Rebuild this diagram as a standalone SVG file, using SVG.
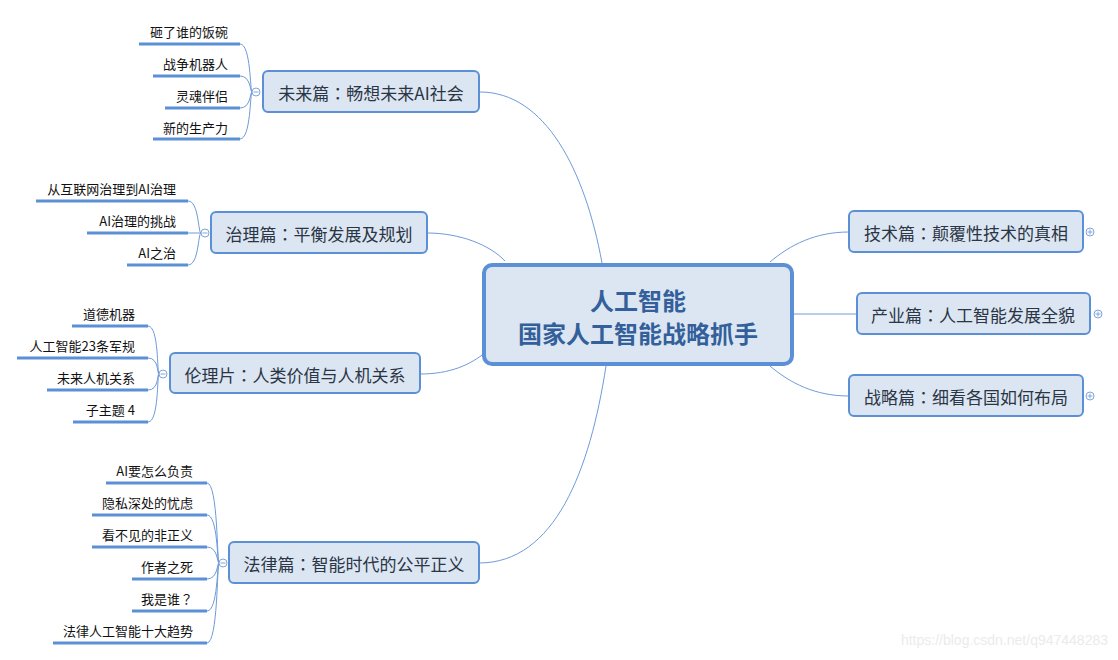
<svg xmlns="http://www.w3.org/2000/svg" width="1118" height="660" viewBox="0 0 1118 660">
<style>
text{font-family:"Noto Sans CJK SC","Microsoft YaHei","Liberation Sans",sans-serif;dominant-baseline:central}
.c{font-family:"Noto Sans CJK TC","Noto Sans CJK SC",sans-serif}
.topic{fill:#dce6f2;stroke:#5b8fd6;stroke-width:2}
.tt{font-size:17px;fill:#2a3545;text-anchor:middle}
.ct{font-size:24px;font-weight:bold;fill:#33609a;text-anchor:middle}
.sub{font-size:13px;fill:#111;text-anchor:end}
.ul{stroke:#5b8fd6;stroke-width:3;fill:none}
.conn path{fill:none;stroke:#6e9bd8;stroke-width:1}
.tog{fill:#fff;stroke:#7fa6dc;stroke-width:1}
.tsym{stroke:#7fa6dc;stroke-width:1}
</style>
<rect width="1118" height="660" fill="#fff"/>
<g id="connectors" class="conn">
<path d="M480 92 C545 92 585 170 602 263"/>
<path d="M427 233 C460 233 490 245 505 261"/>
<path d="M420 374 C450 374 470 365 486 352"/>
<path d="M479 563 C555 563 590 470 606 366"/>
<path d="M770 262 C790 245 815 232 849 232"/>
<path d="M794 314 L857 314"/>
<path d="M770 366 C790 383 815 396 849 396"/>
<path d="M240 44 C251 44 250 92 252 92"/>
<path d="M240 76 C251 76 250 92 252 92"/>
<path d="M240 108 C251 108 250 92 252 92"/>
<path d="M240 139 C251 139 250 92 252 92"/>
<path d="M188 201 C199 201 198 233 201 233"/>
<path d="M188 233 L201 233"/>
<path d="M188 265 C199 265 198 233 201 233"/>
<path d="M148 326 C159 326 157 374 159 374"/>
<path d="M148 358 C159 358 157 374 159 374"/>
<path d="M148 390 C159 390 157 374 159 374"/>
<path d="M148 422 C159 422 157 374 159 374"/>
<path d="M207 483 C218 483 217 563 219 563"/>
<path d="M207 515 C218 515 217 563 219 563"/>
<path d="M207 547 C218 547 217 563 219 563"/>
<path d="M207 579 C218 579 217 563 219 563"/>
<path d="M207 611 C218 611 217 563 219 563"/>
<path d="M207 643 C218 643 217 563 219 563"/>
</g>
<g id="center">
<rect x="484" y="265" width="308" height="99" rx="8" fill="#dce6f2" stroke="#5b8fd6" stroke-width="4"/>
<text class="ct" x="638" y="299">人工智能</text>
<text class="ct" x="638" y="332">国家人工智能战略抓手</text>
</g>
<g id="node-future">
<rect class="topic" x="263" y="71" width="216" height="41" rx="5"/>
<text class="tt" x="371" y="92">未来篇<tspan class="c">：</tspan>畅想未来AI社会</text>
<circle class="tog" cx="256" cy="92" r="4"/><line class="tsym" x1="253.5" y1="92" x2="258.5" y2="92"/>
</g>
<g id="future-1"><text class="sub" x="228" y="31">砸了谁的饭碗</text><line class="ul" x1="139" y1="44" x2="240" y2="44"/></g>
<g id="future-2"><text class="sub" x="228" y="63">战争机器人</text><line class="ul" x1="153" y1="76" x2="240" y2="76"/></g>
<g id="future-3"><text class="sub" x="228" y="95">灵魂伴侣</text><line class="ul" x1="165" y1="108" x2="240" y2="108"/></g>
<g id="future-4"><text class="sub" x="228" y="127">新的生产力</text><line class="ul" x1="153" y1="139" x2="240" y2="139"/></g>
<g id="node-govern">
<rect class="topic" x="211" y="212" width="216" height="41" rx="5"/>
<text class="tt" x="319" y="233">治理篇<tspan class="c">：</tspan>平衡发展及规划</text>
<circle class="tog" cx="205" cy="233" r="4"/><line class="tsym" x1="202.5" y1="233" x2="207.5" y2="233"/>
</g>
<g id="govern-1"><text class="sub" x="176" y="188">从互联网治理到AI治理</text><line class="ul" x1="36" y1="201" x2="188" y2="201"/></g>
<g id="govern-2"><text class="sub" x="176" y="220">AI治理的挑战</text><line class="ul" x1="87" y1="233" x2="188" y2="233"/></g>
<g id="govern-3"><text class="sub" x="176" y="252">AI之治</text><line class="ul" x1="127" y1="265" x2="188" y2="265"/></g>
<g id="node-ethics">
<rect class="topic" x="170" y="353" width="250" height="40" rx="5"/>
<text class="tt" x="295" y="374">伦理片<tspan class="c">：</tspan>人类价值与人机关系</text>
<circle class="tog" cx="163" cy="374" r="4"/><line class="tsym" x1="160.5" y1="374" x2="165.5" y2="374"/>
</g>
<g id="ethics-1"><text class="sub" x="135" y="313">道德机器</text><line class="ul" x1="72" y1="326" x2="148" y2="326"/></g>
<g id="ethics-2"><text class="sub" x="135" y="345">人工智能23条军规</text><line class="ul" x1="17" y1="358" x2="148" y2="358"/></g>
<g id="ethics-3"><text class="sub" x="135" y="377">未来人机关系</text><line class="ul" x1="47" y1="390" x2="148" y2="390"/></g>
<g id="ethics-4"><text class="sub" x="135" y="409">子主题 4</text><line class="ul" x1="73" y1="422" x2="148" y2="422"/></g>
<g id="node-law">
<rect class="topic" x="229" y="542" width="250" height="41" rx="5"/>
<text class="tt" x="354" y="563">法律篇<tspan class="c">：</tspan>智能时代的公平正义</text>
<circle class="tog" cx="223" cy="563" r="4"/><line class="tsym" x1="220.5" y1="563" x2="225.5" y2="563"/>
</g>
<g id="law-1"><text class="sub" x="193" y="470">AI要怎么负责</text><line class="ul" x1="106" y1="483" x2="207" y2="483"/></g>
<g id="law-2"><text class="sub" x="193" y="502">隐私深处的忧虑</text><line class="ul" x1="92" y1="515" x2="207" y2="515"/></g>
<g id="law-3"><text class="sub" x="193" y="534">看不见的非正义</text><line class="ul" x1="92" y1="547" x2="207" y2="547"/></g>
<g id="law-4"><text class="sub" x="193" y="566">作者之死</text><line class="ul" x1="132" y1="579" x2="207" y2="579"/></g>
<g id="law-5"><text class="sub" x="193" y="598">我是谁<tspan class="c">？</tspan></text><line class="ul" x1="132" y1="611" x2="207" y2="611"/></g>
<g id="law-6"><text class="sub" x="193" y="630">法律人工智能十大趋势</text><line class="ul" x1="53" y1="643" x2="207" y2="643"/></g>
<g id="node-tech">
<rect class="topic" x="849" y="211" width="234" height="41" rx="5"/>
<text class="tt" x="966" y="232">技术篇<tspan class="c">：</tspan>颠覆性技术的真相</text>
<circle class="tog" cx="1090" cy="232" r="4"/><line class="tsym" x1="1087.5" y1="232" x2="1092.5" y2="232"/><line class="tsym" x1="1090" y1="229.5" x2="1090" y2="234.5"/>
</g>
<g id="node-industry">
<rect class="topic" x="857" y="293" width="233" height="41" rx="5"/>
<text class="tt" x="973" y="314">产业篇<tspan class="c">：</tspan>人工智能发展全貌</text>
<circle class="tog" cx="1098" cy="314" r="4"/><line class="tsym" x1="1095.5" y1="314" x2="1100.5" y2="314"/><line class="tsym" x1="1098" y1="311.5" x2="1098" y2="316.5"/>
</g>
<g id="node-strategy">
<rect class="topic" x="849" y="375" width="234" height="41" rx="5"/>
<text class="tt" x="966" y="396">战略篇<tspan class="c">：</tspan>细看各国如何布局</text>
<circle class="tog" cx="1090" cy="396" r="4"/><line class="tsym" x1="1087.5" y1="396" x2="1092.5" y2="396"/><line class="tsym" x1="1090" y1="393.5" x2="1090" y2="398.5"/>
</g>
<text x="1108" y="640" style="font-family:'Liberation Sans',sans-serif;font-size:14px;fill:#ebebeb;text-anchor:end">https://blog.csdn.net/q947448283</text>
</svg>
